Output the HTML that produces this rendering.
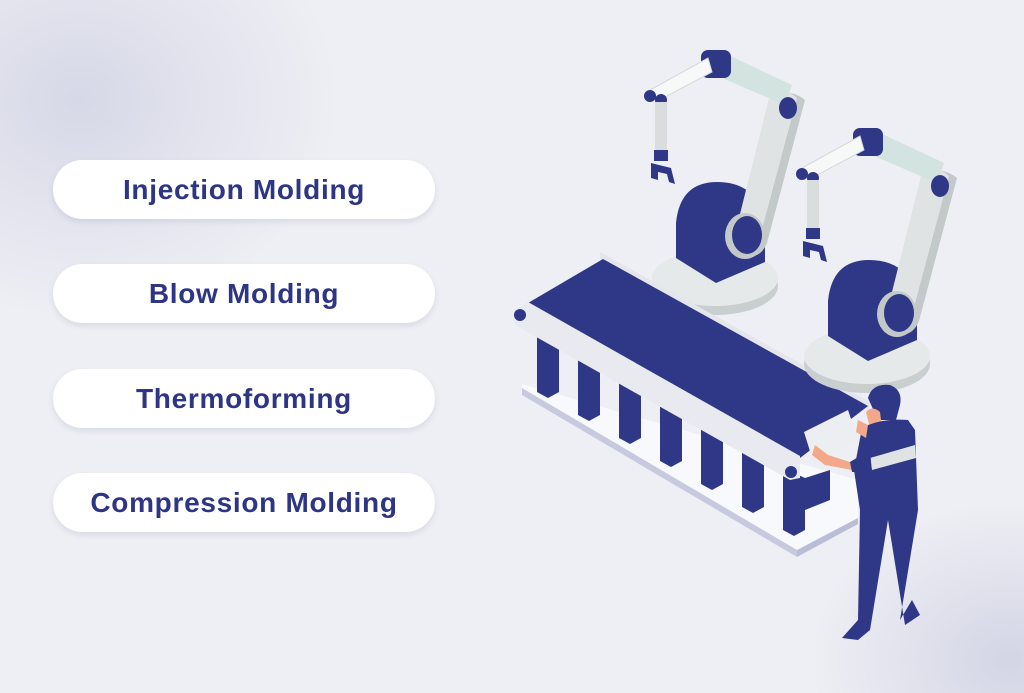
<!DOCTYPE html>
<html><head><meta charset="utf-8"><style>
html,body{margin:0;padding:0}
body{width:1024px;height:693px;overflow:hidden;position:relative;font-family:"Liberation Sans",sans-serif;
background:radial-gradient(ellipse 260px 220px at 80px 100px,#d6d8e7,rgba(238,239,244,0) 100%),radial-gradient(ellipse 200px 160px at 1010px 660px,#d3d5e5,rgba(238,239,244,0) 100%),#eeeff4;}
.pill{position:absolute;left:53px;width:382px;height:59px;border-radius:30px;background:#fff;box-shadow:0 3px 6px rgba(120,125,160,.18);
color:#2e3585;font-weight:bold;font-size:28px;display:flex;align-items:center;justify-content:center;letter-spacing:.7px}
svg{position:absolute;left:0;top:0}
</style></head><body>
<div class="pill" style="top:160px">Injection Molding</div>
<div class="pill" style="top:264px">Blow Molding</div>
<div class="pill" style="top:369px">Thermoforming</div>
<div class="pill" style="top:473px">Compression Molding</div>
<svg width="1024" height="693" viewBox="0 0 1024 693">
<defs>
<g id="robot">
 <ellipse cx="0" cy="8" rx="63" ry="29" fill="#c9cfcf"/>
 <ellipse cx="0" cy="0" rx="63" ry="28" fill="#e6e9ea"/>
 <path d="M-39,-20 L-39,-55 Q-35,-96 2,-96 Q40,-96 50,-60 L50,-16 L1,5 Z" fill="#2f3787"/>
 <path d="M60,-182 Q75,-190 90,-178 L52,-35 Q45,-18 28,-22 L18,-35 Z" fill="#c3c9c9"/>
 <path d="M55,-184 Q68,-192 82,-180 L42,-30 Q30,-16 16,-28 Z" fill="#dfe3e3"/>
 <ellipse cx="30" cy="-42" rx="20" ry="23" fill="#c3c9c9"/>
 <ellipse cx="32" cy="-43" rx="15" ry="19" fill="#2f3787"/>
 <path d="M7,-226 L77,-193 L70,-173 L0,-203 Z" fill="#d3e3df"/>
 <ellipse cx="73" cy="-170" rx="9" ry="11" fill="#2f3787"/>
 <rect x="-14" y="-228" width="30" height="28" rx="7" fill="#2f3787"/>
 <path d="M-7,-220 L-3,-206 L-59,-176 L-65,-188 Z" fill="#f7f8f8" stroke="#d5d9d9" stroke-width="1"/>
 <circle cx="-65" cy="-182" r="6" fill="#2f3787"/>
 <circle cx="-54" cy="-178" r="6" fill="#2f3787"/>
 <rect x="-60" y="-176" width="12" height="50" fill="#d9dddd"/>
 <rect x="-61" y="-128" width="14" height="11" fill="#2f3787"/>
 <path d="M-64,-115 L-44,-110 L-40,-94 L-46,-96 L-48,-104 L-57,-106 L-57,-98 L-64,-100 Z" fill="#2f3787"/>
</g>
</defs>
<use href="#robot" x="715" y="278"/>
<polygon points="522,384 858,480 858,518 797,550 522,392" fill="#f8f9fc"/>
<polygon points="522,388 797,550 797,557 522,395" fill="#c7c9df"/>
<polygon points="797,550 858,518 858,524 797,557" fill="#babdd6"/>
<g fill="#2f3787">
<polygon points="537,330 559,340 559,392 548,398 537,392"/>
<polygon points="578,353 600,363 600,415 589,421 578,415"/>
<polygon points="619,376 641,386 641,438 630,444 619,438"/>
<polygon points="660,399 682,409 682,461 671,467 660,461"/>
<polygon points="701,422 723,432 723,484 712,490 701,484"/>
<polygon points="742,445 764,455 764,507 753,513 742,507"/>
<polygon points="783,468 805,478 805,530 794,536 783,530"/>
<polygon points="805,478 830,470 830,500 805,510"/>
</g>
<polygon points="600,252 870,402 868,410 600,260" fill="#e4e6ee"/>
<polygon points="528,303 603,259 868,406 800,458" fill="#2f3787"/>
<polygon points="515,310 528,302 800,456 800,478 790,480 515,325" fill="#e8eaf0"/>
<circle cx="520" cy="315" r="6" fill="#2f3787"/>
<circle cx="791" cy="472" r="6" fill="#2f3787"/>
<use href="#robot" x="867" y="356"/>
<g>
 <path d="M868,398 Q872,383 890,385 Q903,390 900,405 L896,420 L878,420 Z" fill="#2f3787"/>
 <path d="M866,412 Q872,405 880,412 L882,428 L870,428 Z" fill="#f2a889"/>
 <path d="M862,428 Q880,418 908,420 L915,430 L918,510 L900,620 L912,600 L920,615 L905,625 L888,520 L870,630 L858,640 L842,638 L858,620 L860,510 L854,470 Z" fill="#2f3787"/>
 <path d="M870,458 L915,445 L916,458 L872,470 Z" fill="#dfe3e3"/>
 <polygon points="804,432 848,410 858,440 814,464" fill="#eceef2"/>
 <path d="M815,445 L828,455 L850,462 L852,470 L825,465 L812,455 Z" fill="#f2a889"/>
 <path d="M858,420 L868,425 L866,438 L856,432 Z" fill="#f2a889"/>
 <path d="M850,462 L870,450 L872,472 L852,472 Z" fill="#2f3787"/>
</g>
</svg>
</body></html>
